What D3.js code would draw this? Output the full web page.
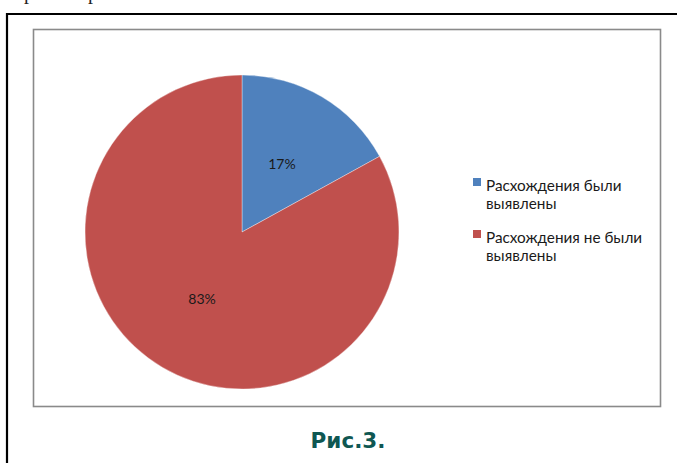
<!DOCTYPE html>
<html><head><meta charset="utf-8">
<script src="https://cdn.jsdelivr.net/npm/d3@7"></script>
<style>html,body{margin:0;padding:0;background:#fff;}svg{display:block;}</style>
</head><body>
<script>
const categories = ["Расхождения были выявлены", "Расхождения не были выявлены"];
const legendLines = [["Расхождения были", "выявлены"], ["Расхождения не были", "выявлены"]];
const values = [17, 83];
const labels = ["17%", "83%"];
const colors = ["#4F81BD", "#C0504D"];
const caption = "Рис.3.";

const W = 677, H = 463;
const svg = d3.select("body").append("svg").attr("width", W).attr("height", H);

// fragment of previous text line (only descenders visible)
svg.append("text").attr("x", 24).attr("y", -1)
  .attr("font-family", "Liberation Serif").attr("font-size", 20).attr("fill", "#222")
  .text("р");
svg.append("text").attr("x", 88).attr("y", -1)
  .attr("font-family", "Liberation Serif").attr("font-size", 20).attr("fill", "#222")
  .text("р");

// outer black frame (top + left visible)
svg.append("path").attr("d", "M7,470 V14 H690").attr("fill", "none")
  .attr("stroke", "#000").attr("stroke-width", 2.2);

// chart area box
svg.append("rect").attr("x", 33.5).attr("y", 29.5).attr("width", 627).attr("height", 377)
  .attr("fill", "#fff").attr("stroke", "#8a8a8a").attr("stroke-width", 1.6);

const cx = 242, cy = 232, r = 157;
const pie = d3.pie().sort(null).value(d => d)(values);
const arc = d3.arc().innerRadius(0).outerRadius(r);
const g = svg.append("g").attr("transform", `translate(${cx},${cy})`);
g.selectAll("path").data(pie).join("path")
  .attr("d", arc).attr("fill", (d, i) => colors[i])
  .attr("stroke", "#fff").attr("stroke-width", 0.6).attr("stroke-opacity", 0.6);

const labelArc = d3.arc().innerRadius(r * 0.5).outerRadius(r * 0.5);
g.selectAll("text.lbl").data(pie).join("text").attr("class", "lbl")
  .attr("transform", d => { const c = labelArc.centroid(d); return `translate(${c[0]},${c[1]})`; })
  .attr("text-anchor", "middle").attr("dy", "0.35em")
  .attr("font-family", "Lato, 'Open Sans', sans-serif").attr("font-size", 14).attr("fill", "#1a1a1a")
  .text((d, i) => labels[i]);

// legend
const leg = svg.append("g").attr("transform", "translate(473,178)");
const ly = d3.scaleOrdinal().domain(categories).range([0, 52]);
categories.forEach((c, i) => {
  const gi = leg.append("g").attr("transform", `translate(0,${ly(c)})`);
  gi.append("rect").attr("width", 8).attr("height", 8).attr("fill", colors[i]);
  gi.append("text").attr("x", 13).attr("y", 12.5)
    .attr("font-family", "Lato, 'Open Sans', sans-serif").attr("font-size", 15.3).attr("fill", "#1a1a1a")
    .selectAll("tspan").data(legendLines[i]).join("tspan")
    .attr("x", 13).attr("dy", (d, j) => j === 0 ? 0 : 18.5).text(d => d);
});

svg.append("text").attr("x", 348).attr("y", 448).attr("text-anchor", "middle")
  .attr("font-family", "'DejaVu Sans', sans-serif").attr("font-weight", "bold")
  .attr("font-size", 21.5).attr("fill", "#0f5752").text(caption);
</script>
</body></html>
